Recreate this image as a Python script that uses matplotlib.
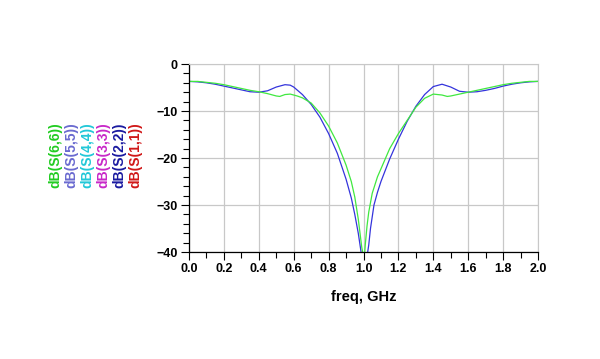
import matplotlib
matplotlib.use('Agg')
from matplotlib import pyplot as plt
from matplotlib.ticker import MultipleLocator

plt.rcParams['font.family'] = ['Liberation Sans', 'DejaVu Sans']

# trace data (freq in GHz, dB)
freq_blue = [0.00, 0.05, 0.10, 0.15, 0.20, 0.25, 0.30, 0.35, 0.40, 0.45, 0.50, 0.55,
             0.58, 0.60, 0.65, 0.70, 0.75, 0.80, 0.85, 0.90, 0.93, 0.95, 0.97, 0.98,
             0.99, 1.02, 1.03, 1.04, 1.06, 1.08, 1.10, 1.15, 1.20, 1.25, 1.30, 1.35,
             1.40, 1.45, 1.50, 1.55, 1.60, 1.65, 1.70, 1.75, 1.80, 1.85, 1.90, 1.95, 2.00]
db_blue = [-3.7, -3.8, -4.0, -4.3, -4.7, -5.1, -5.5, -5.9, -6.0, -5.7, -4.9, -4.4,
           -4.5, -4.9, -6.5, -8.6, -11.3, -14.8, -19.0, -24.5, -28.5, -32.0, -36.0, -38.5,
           -41.0, -41.0, -38.5, -35.0, -30.0, -27.3, -25.0, -20.2, -16.0, -12.2, -9.0, -6.5,
           -4.8, -4.3, -4.9, -5.8, -6.0, -5.9, -5.6, -5.2, -4.7, -4.3, -4.0, -3.8, -3.7]

freq_green = [0.00, 0.05, 0.10, 0.15, 0.20, 0.25, 0.30, 0.35, 0.40, 0.45, 0.50, 0.52,
              0.55, 0.58, 0.62, 0.65, 0.70, 0.75, 0.80, 0.85, 0.90, 0.93, 0.95, 0.97,
              0.98, 0.99, 1.00, 1.005, 1.01, 1.02, 1.03, 1.05, 1.08, 1.10, 1.15, 1.20,
              1.25, 1.30, 1.35, 1.40, 1.45, 1.48, 1.50, 1.55, 1.60, 1.65, 1.70, 1.75,
              1.80, 1.85, 1.90, 1.95, 2.00]
db_green = [-3.7, -3.7, -3.9, -4.1, -4.4, -4.8, -5.2, -5.6, -5.9, -6.3, -6.8, -6.9,
            -6.5, -6.4, -6.8, -7.2, -8.3, -10.4, -13.2, -16.8, -21.5, -25.0, -28.3, -33.0,
            -36.0, -39.0, -41.0, -41.0, -38.5, -34.5, -31.5, -27.5, -24.0, -22.3, -18.0, -14.8,
            -12.0, -9.2, -7.3, -6.4, -6.6, -6.9, -6.8, -6.4, -6.0, -5.6, -5.2, -4.8,
            -4.4, -4.1, -3.9, -3.7, -3.7]

trace_names = ['dB(S(6,6))', 'dB(S(5,5))', 'dB(S(4,4))', 'dB(S(3,3))', 'dB(S(2,2))', 'dB(S(1,1))']
trace_colors = ['#22cc22', '#6a6ad0', '#22c8d8', '#c828c8', '#1a1aa0', '#d01818']

fig = plt.figure(figsize=(6.0, 3.59), dpi=100)
ax = fig.add_axes([0.315, 0.298, 0.5817, 0.5237])

ax.plot(freq_blue, db_blue, color='#3434dc', lw=0.9)
ax.plot(freq_green, db_green, color='#40e840', lw=0.9)

ax.set_xlim(0, 2.0)
ax.set_ylim(-40, 0)
ax.xaxis.set_major_locator(MultipleLocator(0.2))
ax.xaxis.set_minor_locator(MultipleLocator(0.1))
ax.yaxis.set_major_locator(MultipleLocator(10))
ax.yaxis.set_minor_locator(MultipleLocator(2))
ax.set_xticklabels([f'{v:.1f}' for v in ax.get_xticks()])
ax.grid(True, which='major', color='#c8c8c8', lw=0.9)
ax.set_axisbelow(True)

for side in ['top', 'right']:
    ax.spines[side].set_color('#c8c8c8')
for side in ['left', 'bottom']:
    ax.spines[side].set_color('black')
    ax.spines[side].set_linewidth(0.9)

ax.tick_params(which='major', direction='out', length=6, width=0.8, pad=2, labelsize=9)
ax.tick_params(which='minor', direction='out', length=4, width=0.8)
ax.tick_params(top=False, right=False, which='both')
for lab in ax.get_xticklabels() + ax.get_yticklabels():
    lab.set_fontweight('bold')

ax.set_xlabel('freq, GHz', fontsize=10.5, fontweight='bold', labelpad=11)

# stacked rotated trace labels on the left
x0 = 55
for i, (name, col) in enumerate(zip(trace_names, trace_colors)):
    fig.text((x0 + i * 16) / 600, 1 - 155 / 359, name, rotation=90, color=col,
             fontsize=10, fontweight='bold', ha='center', va='center')

fig.savefig('out.png', dpi=100)
